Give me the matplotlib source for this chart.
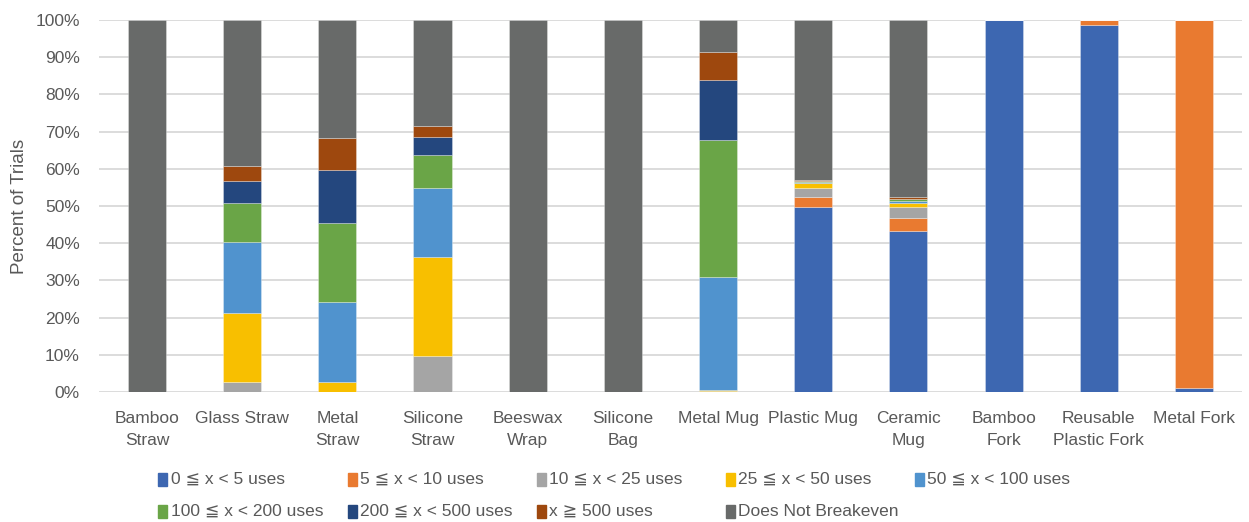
import matplotlib.pyplot as plt
from matplotlib.patches import Rectangle
import numpy as np

products = ["Bamboo\nStraw", "Glass Straw", "Metal\nStraw", "Silicone\nStraw",
            "Beeswax\nWrap", "Silicone\nBag", "Metal Mug", "Plastic Mug",
            "Ceramic\nMug", "Bamboo\nFork", "Reusable\nPlastic Fork", "Metal Fork"]

bins = ["0 \u2266 x < 5 uses", "5 \u2266 x < 10 uses", "10 \u2266 x < 25 uses",
        "25 \u2266 x < 50 uses", "50 \u2266 x < 100 uses", "100 \u2266 x < 200 uses",
        "200 \u2266 x < 500 uses", "x \u2267 500 uses", "Does Not Breakeven"]

# percent of trials per breakeven bin, one list per bin (same order as products)
uses_0_5 =     [0, 0,    0,    0,    0, 0, 0,    49.8, 43.4, 100, 98.7, 1.2]
uses_5_10 =    [0, 0,    0,    0,    0, 0, 0,    2.7,  3.5,  0,   1.3,  98.8]
uses_10_25 =   [0, 2.8,  0,    9.6,  0, 0, 0.3,  2.4,  2.7,  0,   0,    0]
uses_25_50 =   [0, 18.4, 2.8,  26.6, 0, 0, 0.3,  1.2,  1.2,  0,   0,    0]
uses_50_100 =  [0, 19.1, 21.5, 18.7, 0, 0, 30.2, 0.3,  0.6,  0,   0,    0]
uses_100_200 = [0, 10.4, 21.1, 8.8,  0, 0, 36.9, 0.2,  0.4,  0,   0,    0]
uses_200_500 = [0, 6.1,  14.4, 4.9,  0, 0, 16.3, 0.2,  0.2,  0,   0,    0]
uses_500_up =  [0, 3.9,  8.5,  2.8,  0, 0, 7.3,  0.1,  0.3,  0,   0,    0]
no_breakeven = [100, 39.3, 31.7, 28.7, 100, 100, 8.7, 43.1, 47.7, 0, 0, 0]

series = [uses_0_5, uses_5_10, uses_10_25, uses_25_50, uses_50_100,
          uses_100_200, uses_200_500, uses_500_up, no_breakeven]
colors = ["#3D67B1", "#E97A30", "#A5A5A5", "#F8BF00", "#5093CE",
          "#6AA547", "#24477E", "#9E480E", "#686A69"]

plt.rcParams['font.family'] = ['Liberation Sans', 'DejaVu Sans']
text_color = "#595959"

fig = plt.figure(figsize=(12.49, 5.22), dpi=100)
ax = fig.add_axes([0.0796, 0.249, 0.9144, 0.7127])

x = np.arange(len(products))
bottom = np.zeros(len(products))
for vals, col in zip(series, colors):
    vals = np.array(vals, dtype=float)
    ax.bar(x, vals, 0.4, bottom=bottom, color=col,
           edgecolor=(1, 1, 1, 0.35), linewidth=0.6, zorder=3)
    bottom += vals

ax.set_xlim(-0.5, len(products) - 0.5)
ax.set_ylim(0, 100)
ax.set_yticks(np.arange(0, 101, 10))
ax.set_yticklabels([f"{v}%" for v in range(0, 101, 10)])
ax.yaxis.grid(True, color="#D9D9D9", linewidth=1.3, zorder=0)
ax.set_xticks(x)
ax.set_xticklabels(products, linespacing=1.55, ha='center')
ax.tick_params(axis='both', length=0, labelsize=12.5, colors=text_color)
ax.tick_params(axis='y', pad=14)
ax.tick_params(axis='x', pad=14)
for s in ax.spines.values():
    s.set_visible(False)
ax.set_ylabel("Percent of Trials", fontsize=13.5, color=text_color)
ax.yaxis.set_label_coords(-0.0625, 0.5)

# legend: 5 columns, filled row by row
x0, dx = 163 / 1249, 189 / 1249
rows_y = [1 - 479 / 522, 1 - 511 / 522]
mw, mh = 9 / 1249, 13 / 522
for i, (lab, col) in enumerate(zip(bins, colors)):
    r, c = divmod(i, 5)
    xl = x0 + c * dx
    fig.add_artist(Rectangle((xl - mw / 2, rows_y[r] - mh / 2), mw, mh,
                             transform=fig.transFigure, color=col))
    fig.text(xl + 8 / 1249, rows_y[r], lab, fontsize=12.5, color=text_color,
             va='center', ha='left')

fig.savefig("out.png", dpi=100)
